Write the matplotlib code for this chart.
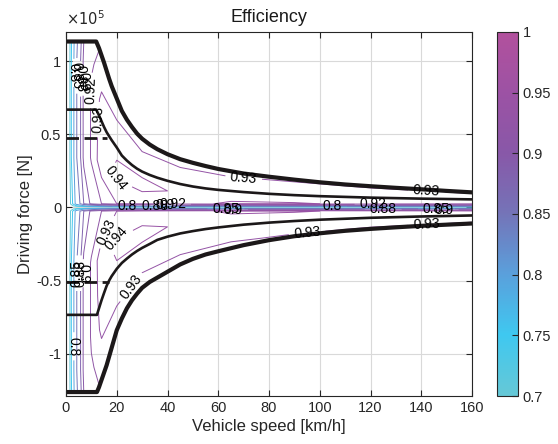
import numpy as np
import matplotlib
matplotlib.use('Agg')
import matplotlib.pyplot as plt
from matplotlib.colors import LinearSegmentedColormap, Normalize
from matplotlib.ticker import FuncFormatter, MultipleLocator

plt.rcParams['font.family'] = ['Liberation Sans', 'DejaVu Sans']
plt.rcParams['axes.unicode_minus'] = False

# 外特性包络: 车速 km/h, 力 x1e5 N
top_outer_v = [0, 11.9, 13, 14, 15, 16, 17, 18, 20, 22, 24, 26, 28, 30, 33, 36, 40, 45, 50,
               55, 60, 70, 80, 90, 100, 110, 120, 130, 140, 150, 160]
top_outer_F = [1.135, 1.135, 1.09, 1.04, 0.99, 0.935, 0.88, 0.83, 0.745, 0.66, 0.60, 0.55, 0.505,
               0.47, 0.43, 0.398, 0.364, 0.33, 0.305, 0.283, 0.263, 0.232, 0.21, 0.19, 0.172,
               0.157, 0.145, 0.134, 0.124, 0.113, 0.103]
top_inner_v = [0, 11.9, 13, 14, 15, 16, 17, 18, 20, 22, 24, 26, 28, 30, 33, 36, 40, 45, 50,
               55, 60, 70, 80, 90, 100, 120, 140, 160]
top_inner_F = [0.669, 0.669, 0.63, 0.59, 0.55, 0.515, 0.487, 0.46, 0.41, 0.355, 0.32, 0.29,
               0.265, 0.245, 0.222, 0.203, 0.182, 0.16, 0.143, 0.13, 0.12, 0.105, 0.093,
               0.084, 0.077, 0.067, 0.06, 0.055]
bot_inner_v = [0, 12.2, 13, 14, 15, 16, 17, 18, 20, 22, 24, 26, 28, 30, 33, 36, 40, 45, 50,
               55, 60, 70, 80, 90, 100, 120, 140, 160]
bot_inner_F = [-0.735, -0.735, -0.69, -0.635, -0.585, -0.537, -0.5, -0.47, -0.42, -0.38,
               -0.35, -0.322, -0.298, -0.277, -0.25, -0.222, -0.2, -0.178, -0.162, -0.148,
               -0.137, -0.118, -0.104, -0.093, -0.084, -0.071, -0.062, -0.055]
bot_outer_v = [0, 12.2, 13, 14, 15, 16, 17, 18, 20, 22, 24, 26, 28, 30, 33, 36, 40, 45, 50,
               55, 60, 70, 80, 90, 100, 110, 120, 130, 140, 150, 160]
bot_outer_F = [-1.263, -1.263, -1.23, -1.18, -1.13, -1.08, -1.02, -0.96, -0.84, -0.76, -0.69,
               -0.635, -0.59, -0.55, -0.51, -0.48, -0.44, -0.39, -0.352, -0.322, -0.30,
               -0.258, -0.224, -0.197, -0.177, -0.16, -0.147, -0.136, -0.126, -0.118, -0.11]
# 额定转矩 (虚线)
dash_top_v = [0, 16]
dash_top_F = [0.475, 0.475]
dash_bot_v = [0, 17]
dash_bot_F = [-0.51, -0.51]

# 效率表: 列为车速; 行 = 负载率*包络 + 力偏置(N)
v_grid = [0.5, 2, 4, 7, 10, 14, 20, 30, 45, 65, 90, 120, 160]
row_load = [-1, -0.88, -0.7, -0.5, -0.3, 0, 0, 0, 0, 0, 0.3, 0.5, 0.7, 0.88, 1]
row_offset = [0, 0, 0, 0, 0, -2500, -1000, 0, 1000, 2500, 0, 0, 0, 0, 0]
# 从最大负载到零负载, 另一半镜像
eff_half = [
    [0.60, 0.74, 0.84, 0.900, 0.915, 0.922, 0.924, 0.925, 0.926, 0.927, 0.928, 0.928, 0.928],
    [0.60, 0.745, 0.845, 0.905, 0.918, 0.926, 0.927, 0.927, 0.928, 0.929, 0.931, 0.931, 0.931],
    [0.60, 0.745, 0.845, 0.905, 0.922, 0.932, 0.934, 0.935, 0.935, 0.934, 0.934, 0.933, 0.933],
    [0.60, 0.745, 0.845, 0.905, 0.922, 0.935, 0.939, 0.939, 0.938, 0.937, 0.936, 0.935, 0.934],
    [0.60, 0.745, 0.845, 0.905, 0.922, 0.936, 0.942, 0.942, 0.939, 0.938, 0.937, 0.936, 0.935],
    [0.58, 0.72, 0.82, 0.880, 0.905, 0.920, 0.930, 0.935, 0.938, 0.941, 0.941, 0.938, 0.935],
    [0.55, 0.66, 0.74, 0.790, 0.820, 0.840, 0.860, 0.870, 0.870, 0.870, 0.870, 0.870, 0.870],
    [0.50, 0.52, 0.54, 0.550, 0.550, 0.550, 0.550, 0.550, 0.550, 0.550, 0.550, 0.550, 0.550],
]
levels = [0.7, 0.75, 0.8, 0.85, 0.88, 0.9, 0.92, 0.93, 0.94]
# 等高线标注位置 (按等级)
label_pos = {
    0.8: [(2.5, 0.92), (2.5, -0.95), (24, 0.008), (105, 0.008)],
    0.85: [(4.2, 0.9), (63, -0.008), (146, -0.008), (3.8, -0.45)],
    0.88: [(5.5, 0.88), (35, 0.012), (125, -0.012), (5.2, -0.45)],
    0.9: [(7, 0.86), (39, 0.014), (66, -0.014), (149, -0.014), (6.8, -0.45)],
    0.92: [(10, 0.8), (42, 0.02), (121, 0.02)],
    0.93: [(13, 0.6), (10, -0.12), (26, -0.55), (70, 0.2), (95, -0.17),
           (142, 0.1), (142, -0.1)],
    0.94: [(20, 0.2), (19, -0.2)],
}

eff = np.array(eff_half + eff_half[::-1][1:])
vg = np.array(v_grid)
Fmax_top = np.interp(vg, top_outer_v, top_outer_F)
Fmax_bot = -np.interp(vg, bot_outer_v, bot_outer_F)
Lr = np.array(row_load)[:, None]
V = np.tile(vg, (len(row_load), 1))
F = np.where(Lr >= 0, Lr * Fmax_top[None, :], Lr * Fmax_bot[None, :]) + np.array(row_offset)[:, None] / 1e5

cmap = LinearSegmentedColormap.from_list('eff', [
    (0.0, '#66c8d6'), (1/6, '#3fc8f0'), (2/6, '#5aa0dc'), (3/6, '#7474b8'),
    (4/6, '#8858a8'), (5/6, '#9c52a4'), (1.0, '#b2519d')])
norm = Normalize(0.7, 1.0)

fig = plt.figure(figsize=(5.58, 4.44), dpi=100)
ax = fig.add_axes([66/558, 48/444, 406/558, 364/444])

# 每个等级单独画, 便于逐级标注
for lev in levels:
    cs = ax.contour(V, F, eff, levels=[lev], colors=[cmap(norm(lev))], linewidths=0.7)
    if lev in label_pos:
        ax.clabel(cs, manual=label_pos[lev], fontsize=10, colors='k', inline=True, fmt='%g')

k = '#1c1819'
ax.plot(top_outer_v, top_outer_F, color=k, lw=3.0, solid_joinstyle='round')
ax.plot(bot_outer_v, bot_outer_F, color=k, lw=3.0, solid_joinstyle='round')
ax.plot(top_inner_v, top_inner_F, color=k, lw=1.9, solid_joinstyle='round')
ax.plot(bot_inner_v, bot_inner_F, color=k, lw=1.9, solid_joinstyle='round')
ax.plot(dash_top_v, dash_top_F, color=k, lw=2.0, dashes=(4.5, 2))
ax.plot(dash_bot_v, dash_bot_F, color=k, lw=2.0, dashes=(4.5, 2))

ax.set_xlim(0, 160)
ax.set_ylim(-1.29, 1.2)
ax.xaxis.set_major_locator(MultipleLocator(20))
ax.yaxis.set_major_locator(MultipleLocator(0.5))
ax.yaxis.set_major_formatter(FuncFormatter(lambda y, p: '%g' % y))
ax.grid(True, color='#d9d9d9', lw=0.8)
ax.set_axisbelow(True)
ax.tick_params(direction='in', top=True, right=True, length=4, labelsize=10.5,
               colors='#262626', width=0.8)
for s in ax.spines.values():
    s.set_color('#262626')
    s.set_linewidth(0.8)
ax.set_title('Efficiency', fontsize=13, pad=7, color='#1a1a1a')
ax.set_xlabel('Vehicle speed [km/h]', fontsize=12, color='#262626', labelpad=3)
ax.set_ylabel('Driving force [N]', fontsize=12, color='#262626', labelpad=2)
ax.text(0, 1.01, r'$\times10^{5}$', transform=ax.transAxes, fontsize=10.5,
        color='#262626', va='bottom', ha='left')

cax = fig.add_axes([497/558, 48/444, 21/558, 364/444])
sm = plt.cm.ScalarMappable(norm=norm, cmap=cmap)
cb = fig.colorbar(sm, cax=cax)
cb.set_ticks([0.7, 0.75, 0.8, 0.85, 0.9, 0.95, 1])
cb.ax.yaxis.set_major_formatter(FuncFormatter(lambda y, p: '%g' % y))
cb.ax.tick_params(direction='in', length=4, labelsize=10.5, colors='#262626', width=0.8)
cb.outline.set_edgecolor('#262626')
cb.outline.set_linewidth(0.8)

fig.savefig('out.png', dpi=100)
